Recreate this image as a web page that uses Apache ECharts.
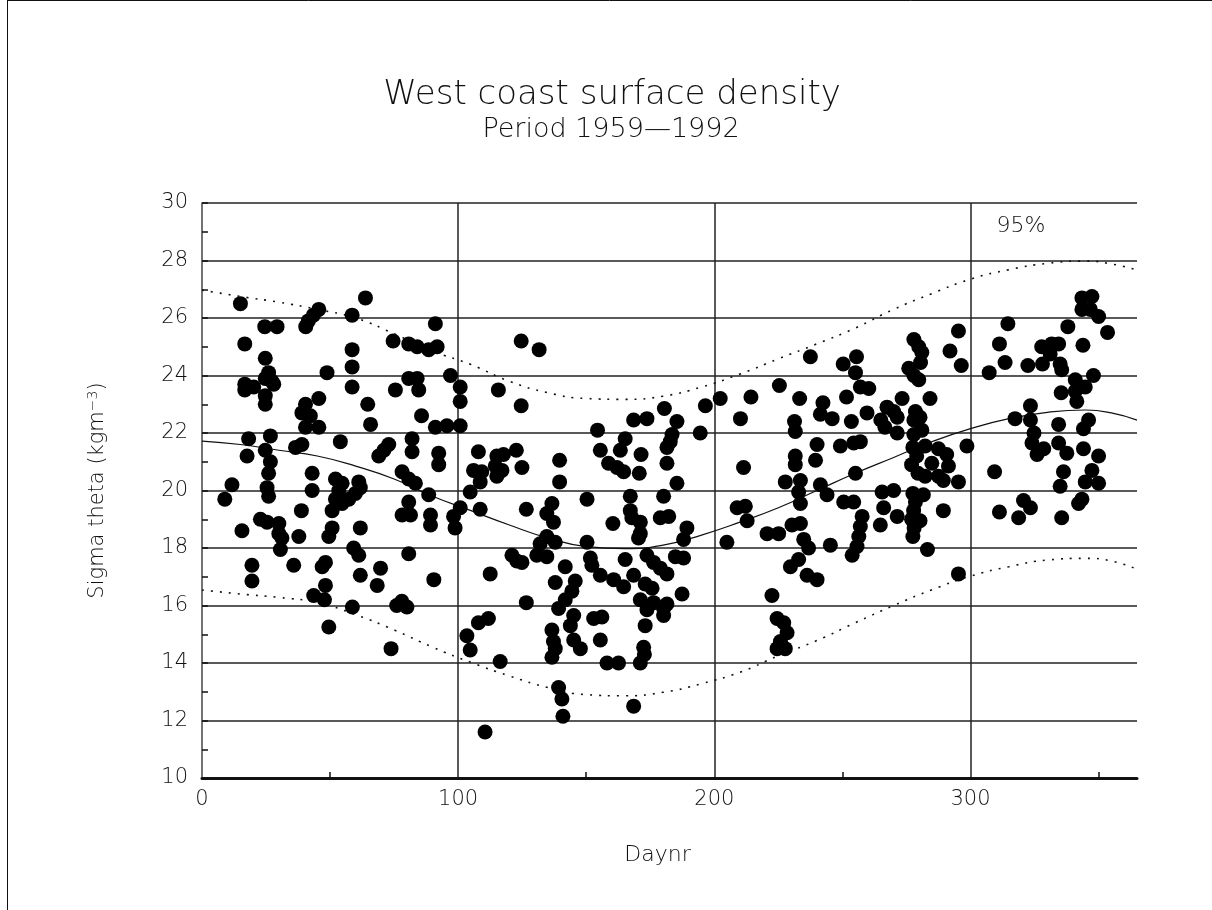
<!DOCTYPE html>
<html>
<head>
<meta charset="utf-8">
<title>West coast surface density</title>
<script src="https://cdn.jsdelivr.net/npm/echarts@6/dist/echarts.min.js"></script>
<style>
  html, body { margin: 0; padding: 0; background: #fff; }
  #chart { width: 1212px; height: 910px; }
</style>
</head>
<body>
<div id="chart"></div>
<script>
// Surface sigma-theta observations, [day of year, kg m^-3]
const obsWinterSpring = [
  [15,26.5],[63.8,26.7],[45.6,26.3],[43.5,26.1],[41.5,25.9],[40.5,25.7],[58.6,26.1],[24.5,25.7],[29.3,25.7],[91.1,25.8],
  [16.7,25.1],[74.6,25.2],[80.7,25.1],[84,25.0],[88.5,24.9],[91.8,25.0],[58.6,24.9],[24.7,24.6],[58.6,24.3],[48.8,24.1],
  [26,24.1],[24.7,23.9],[27.3,23.8],[28,23.7],[16.7,23.7],[20.2,23.6],[16.7,23.5],[58.6,23.6],[75.5,23.5],[80.7,23.9],
  [84,23.9],[84.6,23.5],[24.7,23.3],[24.7,23.0],[45.6,23.2],[40.4,23.0],[39,22.7],[42.3,22.6],[45.6,22.2],[40.4,22.2],
  [64.7,23.0],[65.8,22.3],[85.7,22.6],[26.7,21.9],[18.2,21.8],[54,21.7],[72.9,21.6],[82,21.8],[91.1,22.2],
  [17.6,21.2],[24.7,21.4],[26.7,21.0],[26,20.6],[25.4,20.1],[26,19.8],[36.5,21.5],[39,21.6],[71,21.4],[69,21.2],
  [82,21.35],[92.4,21.3],[92.4,20.9],[11.7,20.2],[8.9,19.7],[43,20.6],[43,20.0],[52.1,20.4],[54.7,20.25],[53.4,20.0],
  [52.1,19.7],[54.7,19.55],[57.3,19.7],[59.9,19.9],[61.2,20.3],[61.8,20.1],[50.8,19.3],[78.1,20.65],[80.7,20.4],[83.3,20.25],
  [88.5,19.85],[80.7,19.6],[78.1,19.15],[81.4,19.15],[89.2,19.15],[89.2,18.8],[38.8,19.3],[22.8,19.0],[25.4,18.9],[30,18.85],
  [30,18.5],[31.2,18.35],[30.6,17.95],[15.6,18.6],[37.8,18.4],[50.8,18.7],[49.5,18.4],[61.8,18.7],[59.2,18.0],[61.2,17.75],
  [80.7,17.8],[19.5,17.4],[19.5,16.85],[35.8,17.4],[46.9,17.35],[48.2,17.5],[61.8,17.05],[69.7,17.3],[68.4,16.7],[90.5,16.9],
  [43.6,16.35],[48.2,16.7],[47.8,16.2],[58.7,15.95],[76,16.0],[78,16.15],[80,15.95],[49.5,15.25],[73.8,14.5]
];

const obsSummer = [
  [124.6,25.2],[131.6,24.9],[97,24.0],[100.8,23.6],[100.8,23.1],[115.7,23.5],[124.6,22.95],[95.6,22.25],[100.8,22.25],[180.5,22.85],
  [168.5,22.45],[173.7,22.5],[185.4,22.4],[154.4,22.1],[165.2,21.8],[183.5,21.95],[182.8,21.7],
  [107.9,21.35],[106,20.7],[109.2,20.65],[108.6,20.3],[104.7,19.95],[115.1,21.2],[117.7,21.25],[114.5,20.85],[117.1,20.7],
  [115.1,20.5],[122.7,21.4],[124.9,20.8],[139.6,21.05],[139.6,20.3],[155.5,21.4],[158.7,20.95],[162,20.8],[164.6,20.65],
  [163.3,21.4],[171.4,21.25],[170.7,20.6],[181.5,21.5],[181.5,20.95],[185.4,20.25],[100.8,19.4],[98.2,19.1],[98.8,18.7],
  [108.6,19.35],[126.6,19.35],[136.6,19.55],[134.6,19.2],[137.2,18.9],[150.3,19.7],[167.2,19.8],[167.2,19.3],[167.8,19.05],
  [171.1,18.9],[171.1,18.5],[160.4,18.85],[180.2,19.8],[178.9,19.05],[182.2,19.1],[170.4,18.35],[134.6,18.4],[132,18.15],
  [137.9,18.2],[130.7,17.75],[134.6,17.7],[150.3,18.2],[121,17.75],[124.9,17.5],[122.9,17.55],[141.8,17.35],[151.6,17.65],
  [152.2,17.4],[165.2,17.6],[168.5,17.05],[173.7,17.75],[176.3,17.5],[178.9,17.3],[181.5,17.1],[184.8,17.7],[112.5,17.1],
  [137.9,16.8],[145.7,16.85],[144.4,16.5],[155.5,17.05],[160.7,16.9],[164.6,16.65],[173,16.75],[175.7,16.6],[171.1,16.2],
  [176.3,16.1],[181.5,16.05],[141.8,16.2],[126.6,16.1],
  [139.2,15.9],[145.1,15.65],[143.8,15.3],[111.8,15.55],[107.9,15.4],[103.4,14.95],[104.7,14.45],[116.4,14.05],[136.6,15.15],
  [137.2,14.75],[137.9,14.5],[136.6,14.2],[145.1,14.8],[147.7,14.5],[152.9,15.55],[156.1,15.6],[155.5,14.8],[158.1,14.0],
  [162.6,14.0],[173.7,15.85],[173,15.3],[180.2,15.9],[180.2,15.65],[172.4,14.55],[172.7,14.3],[171.1,14.0],[139.2,13.15],
  [140.5,12.75],[140.9,12.15],[168.5,12.5],[110.5,11.6]
];

const obsAutumn = [
  [189.3,18.7],[188,18.3],[188,17.65],[187.4,16.4],[211.4,20.8],[208.9,19.4],[212.1,19.45],[212.8,18.95],[204.9,18.2],
  [231.6,21.2],[231.6,20.9],[239.5,21.05],[240.1,21.6],[227.7,20.3],[233.6,20.35],[232.9,19.95],[233.6,19.55],[241.4,20.2],
  [244,19.85],[255.1,20.6],[250.5,19.6],[254.4,19.6],[257.7,19.1],[257,18.75],[256.4,18.4],[255.7,18.05],[253.8,17.75],
  [220.6,18.5],[225.1,18.5],[230.3,18.8],[233.6,18.85],[234.9,18.3],[236.8,18.0],[245.3,18.1],[229.7,17.35],[232.9,17.6],
  [236.2,17.05],[240.1,16.9],[222.5,16.35],[249.2,21.55],[254.4,21.65],[257,21.7],[265.5,19.95],[270,20.0],[266.1,19.4],
  [264.8,18.8],[271.4,19.1],[277.5,19.9],[278.5,19.6],[277.8,19.3],[277,19.0],[278,18.7],[277.5,18.4],
  [194.5,22.0],[196.5,22.95],[202.3,23.2],[210.2,22.5],[214.3,23.25],[225.4,23.65],[233.3,23.2],[231.3,22.4],[231.6,22.05],
  [237.5,24.65],[242.4,23.05],[241.4,22.65],[246,22.5],[250.3,24.4],[255.5,24.65],[255.1,24.1],[257,23.6],[260.3,23.55],
  [251.6,23.25],[253.5,22.4],[259.6,22.7],[267.4,22.9],[270,22.75],[265,22.45],[266.6,22.2],[271.4,22.55],[273.3,23.2],
  [271.4,22.0],[277.9,25.25],[279.8,25.0],[275.9,24.25],[277.9,24.0],[279.8,23.85],[278.5,22.75],[277.9,22.45],[277.9,21.95],
  [277.5,21.5],[279,21.2],[277,20.9],[279.5,20.6],
  [224.5,15.55],[227.1,15.4],[228.4,15.05],[225.8,14.75],[224.5,14.5],[227.7,14.5]
];

const obsLateYear = [
  [281,24.8],[280.5,24.45],[284.2,23.2],[280.3,22.55],[281,22.1],[295.3,25.55],[292,24.85],[296.4,24.35],[314.6,25.8],
  [311.3,25.1],[313.5,24.45],[307.3,24.1],[322.4,24.35],[328.1,24.4],[327.8,25.0],[331.7,25.1],[334.4,25.1],[331.1,24.75],
  [335,24.4],[335.6,24.2],[338,25.7],[343.5,26.7],[347.4,26.75],[343.5,26.3],[346.8,26.3],[350,26.05],[353.5,25.5],
  [343.9,25.05],[348,24.0],[340.9,23.85],[344.8,23.6],[340.9,23.45],[341.5,23.1],[335.4,23.4],[323.4,22.95],[323.4,22.45],
  [324.8,22.0],[317.4,22.5],[334.4,22.3],[346.1,22.45],[344.1,22.15],
  [282.3,21.55],[287.5,21.45],[290.7,21.25],[284.9,20.95],[291.4,20.85],[282.3,20.5],[287.5,20.5],[289.4,20.35],[295.3,20.3],
  [281.6,19.85],[280.3,18.95],[289.4,19.3],[298.6,21.55],[309.4,20.65],[283.2,17.95],[295.3,17.1],[311.3,19.25],[320.7,19.65],
  [323.4,19.4],[318.8,19.05],[324,21.65],[326,21.25],[328.6,21.45],[334.4,21.65],[337.6,21.3],[336.3,20.65],[335,20.15],
  [344.1,21.45],[350,21.2],[347.4,20.7],[344.8,20.3],[350,20.25],[343.5,19.7],[342.2,19.55],[335.6,19.05]
];

// Seasonal fit and 95% envelope, sampled along the year
const curveDay  = [0, 15, 30, 45, 60, 75, 90, 105, 120, 135, 150, 165, 180, 195, 210, 225, 240, 255, 270, 285, 300, 315, 330, 345, 355, 365];
const meanSigma = [21.72, 21.6, 21.4, 21.2, 20.85, 20.4, 19.8, 19.3, 18.8, 18.35, 18.05, 17.98, 18.1, 18.45, 18.9, 19.4, 20.0, 20.6, 21.15, 21.7, 22.15, 22.5, 22.72, 22.8, 22.7, 22.45];
const upper95   = [26.97, 26.75, 26.55, 26.3, 26.0, 25.45, 24.85, 24.38, 23.8, 23.4, 23.2, 23.17, 23.28, 23.6, 24.05, 24.58, 25.1, 25.65, 26.3, 26.85, 27.35, 27.68, 27.9, 27.98, 27.88, 27.67];
const lower95   = [16.54, 16.4, 16.28, 16.1, 15.68, 15.15, 14.55, 14.02, 13.55, 13.15, 12.9, 12.86, 12.98, 13.28, 13.68, 14.25, 14.78, 15.4, 16.0, 16.55, 17.02, 17.35, 17.58, 17.64, 17.55, 17.26];

const xMinorTicks = [50, 150, 250, 350];

const pair = (ys) => curveDay.map((d, i) => [d, ys[i]]);
const observations = obsWinterSpring.concat(obsSummer, obsAutumn, obsLateYear);

const ink = '#111';
const labelFont = '"DejaVu Sans", sans-serif';
const thin = 200;

const chart = echarts.init(document.getElementById('chart'), null, { renderer: 'canvas' });

chart.setOption({
  backgroundColor: '#fff',
  animation: false,
  grid: { left: 202, right: 75, top: 203, bottom: 132, containLabel: false },
  graphic: [
    { type: 'line', shape: { x1: 7.5, y1: 0, x2: 7.5, y2: 910 }, style: { stroke: ink, lineWidth: 1 } },
    { type: 'line', shape: { x1: 7, y1: 0.5, x2: 1212, y2: 0.5 }, style: { stroke: ink, lineWidth: 1 } },
    { type: 'text', x: 612, y: 95, style: { text: 'West coast surface density', fill: ink,
        font: '200 34px "DejaVu Sans", sans-serif', align: 'center', verticalAlign: 'middle' } },
    { type: 'text', x: 611, y: 130, style: { text: 'Period 1959\u20141992', fill: ink,
        font: '200 27px "DejaVu Sans", sans-serif', align: 'center', verticalAlign: 'middle' } },
    { type: 'text', x: 1021, y: 226, style: { text: '95%', fill: ink,
        font: '200 22px "DejaVu Sans", sans-serif', align: 'center', verticalAlign: 'middle' } }
  ],
  xAxis: [
    {
      type: 'value', min: 0, max: 365, interval: 100,
      name: 'Daynr', nameLocation: 'middle', nameGap: 66,
      nameTextStyle: { fontFamily: labelFont, fontWeight: thin, fontSize: 22, color: ink, padding: [0, 24, 0, 0] },
      axisLine: { show: true, onZero: false, lineStyle: { color: ink, width: 3 } },
      axisTick: { show: false },
      axisLabel: { fontFamily: labelFont, fontWeight: thin, fontSize: 21, color: ink, margin: 11, showMaxLabel: false },
      splitLine: { show: true, showMinLine: false, showMaxLine: false, lineStyle: { color: '#222', width: 1.5 } }
    },
    {
      type: 'value', min: 0, max: 365, position: 'bottom',
      axisLine: { show: false },
      axisLabel: { show: false },
      splitLine: { show: false },
      axisTick: { show: true, inside: true, length: 6, customValues: xMinorTicks, lineStyle: { color: ink, width: 1.5 } }
    }
  ],
  yAxis: {
    type: 'value', min: 10, max: 30, interval: 2,
    name: 'Sigma theta (kgm{sup|\u22123})', nameLocation: 'middle', nameGap: 92, nameRotate: 90,
    nameTextStyle: { fontFamily: labelFont, fontWeight: thin, fontSize: 21, color: ink,
      rich: { sup: { fontFamily: labelFont, fontWeight: thin, fontSize: 14, color: ink, verticalAlign: 'top', padding: [0, 0, 10, 0] } } },
    axisLine: { show: true, onZero: false, lineStyle: { color: '#444', width: 1.5 } },
    axisTick: { show: true, inside: true, length: 6, lineStyle: { color: ink, width: 1.5 } },
    minorTick: { show: true, splitNumber: 2, length: 6, lineStyle: { color: ink, width: 1.5 } },
    axisLabel: { fontFamily: labelFont, fontWeight: thin, fontSize: 21, color: ink, margin: 14 },
    splitLine: { show: true, showMinLine: false, showMaxLine: true, lineStyle: { color: '#222', width: 1.5 } }
  },
  series: [
    {
      name: 'upper', type: 'line', data: pair(upper95), smooth: true, symbol: 'none', silent: true, z: 3,
      lineStyle: { color: ink, width: 1.6, type: [2, 7] }
    },
    {
      name: 'lower', type: 'line', data: pair(lower95), smooth: true, symbol: 'none', silent: true, z: 3,
      lineStyle: { color: ink, width: 1.6, type: [2, 7] }
    },
    {
      name: 'mean', type: 'line', data: pair(meanSigma), smooth: true, symbol: 'none', silent: true, z: 3,
      lineStyle: { color: ink, width: 1.2 }
    },
    {
      name: 'observations', type: 'scatter', data: observations, symbol: 'circle', symbolSize: 15, z: 4,
      itemStyle: { color: '#000', opacity: 1 }
    }
  ]
});
</script>
</body>
</html>
